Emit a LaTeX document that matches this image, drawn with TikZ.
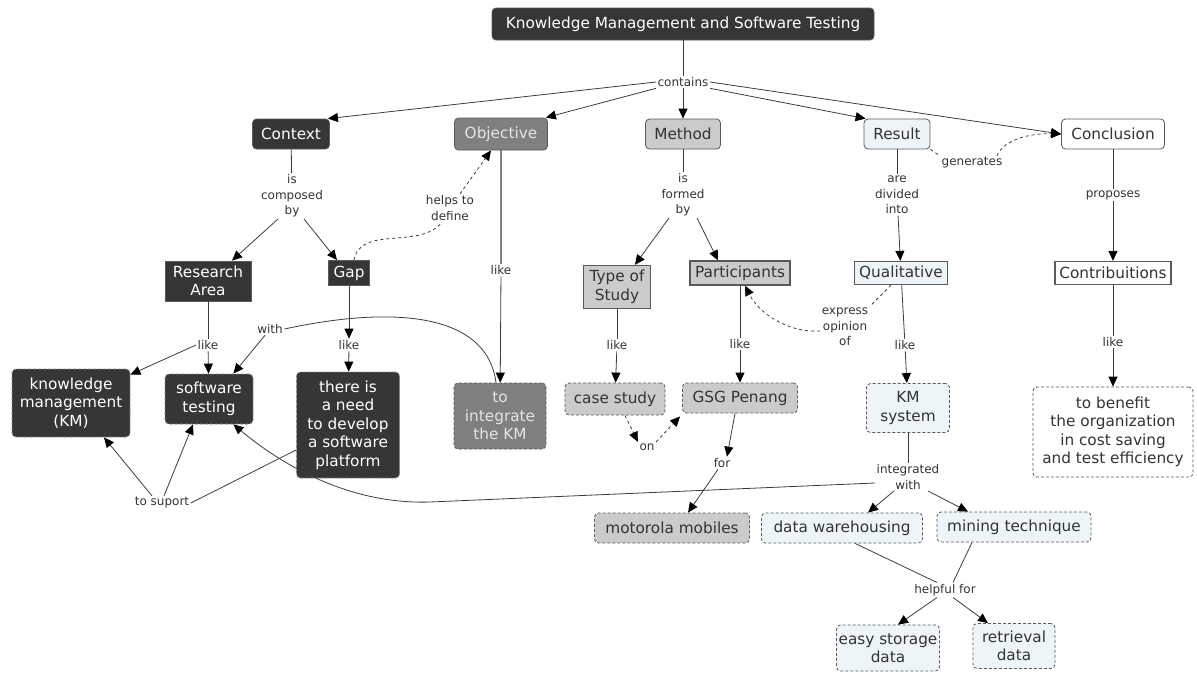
\documentclass[tikz,border=0pt]{standalone}
\usepackage{fontspec}
\setmainfont{DejaVu Sans}
\usetikzlibrary{arrows.meta}
\definecolor{ink}{HTML}{333333}
\definecolor{dkfill}{HTML}{363636}
\definecolor{dkline}{HTML}{8A8A8A}
\definecolor{obfill}{HTML}{808080}
\definecolor{obtext}{HTML}{E4E4E4}
\definecolor{lgfill}{HTML}{CBCBCB}
\definecolor{lbfill}{HTML}{EEF5F8}
\definecolor{edge}{HTML}{5A5A5A}
\definecolor{linkc}{HTML}{3C3C3C}
\begin{document}
\begin{tikzpicture}[x=1pt,y=-1pt,
  concept/.style={rounded corners=4pt, inner sep=1pt, align=center,
    font=\fontsize{15.3}{18.5}\selectfont, line width=0.8pt},
  sq/.style={sharp corners},
  dsh/.style={dash pattern=on 3pt off 2pt},
  thick border/.style={line width=1.3pt},
  dk/.style={concept, fill=dkfill, draw=edge, text=white},
  dkd/.style={concept, fill=dkfill, draw=dkline, text=white, dsh},
  ob/.style={concept, fill=obfill, draw=edge, text=obtext},
  lg/.style={concept, fill=lgfill, draw=edge, text=ink},
  lb/.style={concept, fill=lbfill, draw=edge, text=ink},
  wh/.style={concept, fill=white, draw=edge, text=ink},
  sz/.style 2 args={minimum width=#1, minimum height=#2},
  lbl/.style={font=\fontsize{12}{15.5}\selectfont, text=ink, inner sep=1.5pt, align=center},
  link/.style={draw=linkc, line width=0.8pt},
  tip/.style={-{Triangle[length=10pt,width=9pt,color=black]}},
  arr/.style={link, tip},
  dlink/.style={link, dash pattern=on 3pt off 3pt}
]
\useasboundingbox (0,0) rectangle (1197,673);

% concepts, first row
\node[dk, sz={382}{32}] (title) at (683,24) {Knowledge Management and Software Testing};
\node[dk, sz={77}{30}] (context) at (291,134) {Context};
\node[ob, sz={93}{32}] (objective) at (501,134) {Objective};
\node[lg, sz={75}{30}] (method) at (683,134) {Method};
\node[lb, sz={66}{30}] (result) at (897,134) {Result};
\node[wh, sz={103}{30}] (conclusion) at (1113,134) {Conclusion};

% second row
\node[dk, sq, sz={86}{40}] (ra) at (208,281) {Research\\Area};
\node[dk, sq, sz={41}{25}] (gap) at (349,273) {Gap};
\node[lg, sq, thick border, sz={67}{43}] (tos) at (617,287) {Type of\\Study};
\node[lg, sq, thick border, sz={100}{24}] (part) at (740,273) {Participants};
\node[lb, sq, thick border, sz={93}{23}] (qual) at (901,273) {Qualitative};
\node[wh, sq, thick border, sz={116}{23}] (contrib) at (1113,273) {Contribuitions};

% third row
\node[dkd, sz={118}{68}] (km) at (71,403) {knowledge\\management\\(KM)};
\node[dkd, sz={88}{50}] (swt) at (209,399) {software\\testing};
\node[dkd, sz={103}{106}] (need) at (348,425) {there is\\a need\\to develop\\a software\\platform};
\node[ob, dsh, sz={92}{66}] (integ) at (500,416) {to\\integrate\\the KM};
\node[lg, dsh, sz={100}{32}] (case) at (615,399) {case study};
\node[lg, dsh, sz={115}{30}] (gsg) at (740,398) {GSG Penang};
\node[lb, dsh, sz={83}{49}] (kmsys) at (908,408) {KM\\system};
\node[wh, dsh, sz={160}{90}] (benefit) at (1113,432) {to benefit\\the organization\\in cost saving\\and test efficiency};

% fourth and fifth rows
\node[lg, dsh, sz={155}{30}] (motor) at (672,528) {motorola mobiles};
\node[lb, dsh, sz={161}{30}] (dw) at (842,528) {data warehousing};
\node[lb, dsh, sz={154}{30}] (mt) at (1014,527) {mining technique};
\node[lb, dsh, sz={103}{46}] (easy) at (888,648) {easy storage\\data};
\node[lb, dsh, sz={82}{45}] (retr) at (1014,646) {retrieval\\data};

% linking phrases
\node[lbl] (contains) at (683,82) {contains};
\node[lbl] (composed) at (292,196) {is\\composed\\by};
\node[lbl] (helps) at (450,208) {helps to\\define};
\node[lbl] (formed) at (683,195) {is\\formed\\by};
\node[lbl] (divided) at (897,195) {are\\divided\\into};
\node[lbl] (generates) at (972,163) {generates};
\node[lbl] (proposes) at (1113,195) {proposes};
\node[lbl] (like1) at (208,345) {like};
\node[lbl] (with) at (270,329) {with};
\node[lbl] (like2) at (349,345) {like};
\node[lbl] (like3) at (501,270) {like};
\node[lbl] (like4) at (617,345) {like};
\node[lbl] (like5) at (740,344) {like};
\node[lbl] (express) at (845,327) {express\\opinion\\of};
\node[lbl] (like6) at (905,345) {like};
\node[lbl] (like7) at (1113,342) {like};
\node[lbl] (on) at (647,447) {on};
\node[lbl] (for) at (722,463) {for};
\node[lbl] (integr) at (908,477) {integrated\\with};
\node[lbl] (suport) at (162,503) {to suport};
\node[lbl] (helpful) at (945,590) {helpful for};

% top level
\draw[link] (title) -- (contains);
\draw[arr] (contains.west) -- ([xshift=-2]context.north east);
\draw[arr] (contains.south west) -- ([xshift=-2]objective.north east);
\draw[arr] (contains) -- (method);
\draw[arr] (contains.south east) -- ([xshift=2]result.north west);
\draw[arr] (contains.east) -- (conclusion.west);

% context branch
\draw[link] (context) -- (composed);
\draw[arr] ([xshift=-14]composed.south) -- ([xshift=24]ra.north);
\draw[arr] ([xshift=12]composed.south) -- ([xshift=-12]gap.north);
\draw[dlink] ([xshift=5]gap.north) .. controls (360,225) and (420,250) .. ([xshift=-8]helps.south);
\draw[dlink, tip] ([xshift=10]helps.north) -- ([xshift=-10]objective.south);
\draw[link] (ra) -- (like1);
\draw[arr] (like1) -- (swt);
\draw[arr] (like1.west) -- ([yshift=-6]km.north east);
\draw[arr] (gap) -- (like2);
\draw[arr] (like2) -- (need);
\draw[link] ([yshift=-25]need.west) -- (suport.east);
\draw[arr] ([xshift=-10]suport.north) -- ([xshift=33]km.south);
\draw[arr] ([xshift=2]suport.north) -- ([xshift=-16]swt.south);

% objective branch
\draw[link, draw=obfill, line width=1.2pt] (objective) -- (like3);
\draw[arr] (like3) -- (integ);
\draw[link] ([xshift=-4]integ.north) .. controls (488,318) and (405,303) .. (with.east);
\draw[arr] ([xshift=-5]with.south) -- ([xshift=-20]swt.north east);

% method branch
\draw[link] (method) -- (formed);
\draw[arr] ([xshift=-14]formed.south) -- ([xshift=18]tos.north);
\draw[arr] ([xshift=14]formed.south) -- ([xshift=-22]part.north);
\draw[link] (tos) -- (like4);
\draw[arr] (like4) -- (case);
\draw[link] (part) -- (like5);
\draw[arr] (like5) -- (gsg);
\draw[dlink, tip] ([xshift=10]case.south) -- (on.north west);
\draw[dlink, tip] (on.north east) -- ([xshift=-2,yshift=-3]gsg.south west);
\draw[arr] ([xshift=-5]gsg.south) -- ([xshift=5]for.north);
\draw[arr] ([xshift=-4]for.south) -- ([xshift=16]motor.north);

% result branch
\draw[link] (result) -- (divided);
\draw[arr] (divided) -- (qual);
\draw[dlink] (result.south east) -- (generates.north west);
\draw[dlink, tip] ([xshift=25]generates.north) .. controls (1003,140) and (1030,133) .. (conclusion.west);
\draw[dlink] ([xshift=-10]qual.south) -- (express.north east);
\draw[dlink, tip] ([yshift=-4]express.west) .. controls (790,333) and (760,315) .. ([xshift=5]part.south);
\draw[link] (qual) -- (like6);
\draw[arr] (like6) -- (kmsys);
\draw[link] (kmsys) -- (integr);
\draw[arr] ([xshift=-14]integr.south) -- ([xshift=26]dw.north);
\draw[arr] ([xshift=20]integr.south) -- ([xshift=-46]mt.north);
\draw[arr] ([yshift=-6]integr.west) -- (430,502) .. controls (340,505) and (270,455) .. ([xshift=-20]swt.south east);
\draw[link] ([xshift=13]dw.south) -- ([xshift=-8]helpful.north);
\draw[link] ([xshift=-42]mt.south) -- ([xshift=8]helpful.north);
\draw[arr] ([xshift=-8]helpful.south) -- ([xshift=10]easy.north);
\draw[arr] ([xshift=8]helpful.south) -- ([xshift=-26]retr.north);

% conclusion branch
\draw[link] (conclusion) -- (proposes);
\draw[arr] (proposes) -- (contrib);
\draw[link] (contrib) -- (like7);
\draw[arr] (like7) -- (benefit);
\end{tikzpicture}
\end{document}
